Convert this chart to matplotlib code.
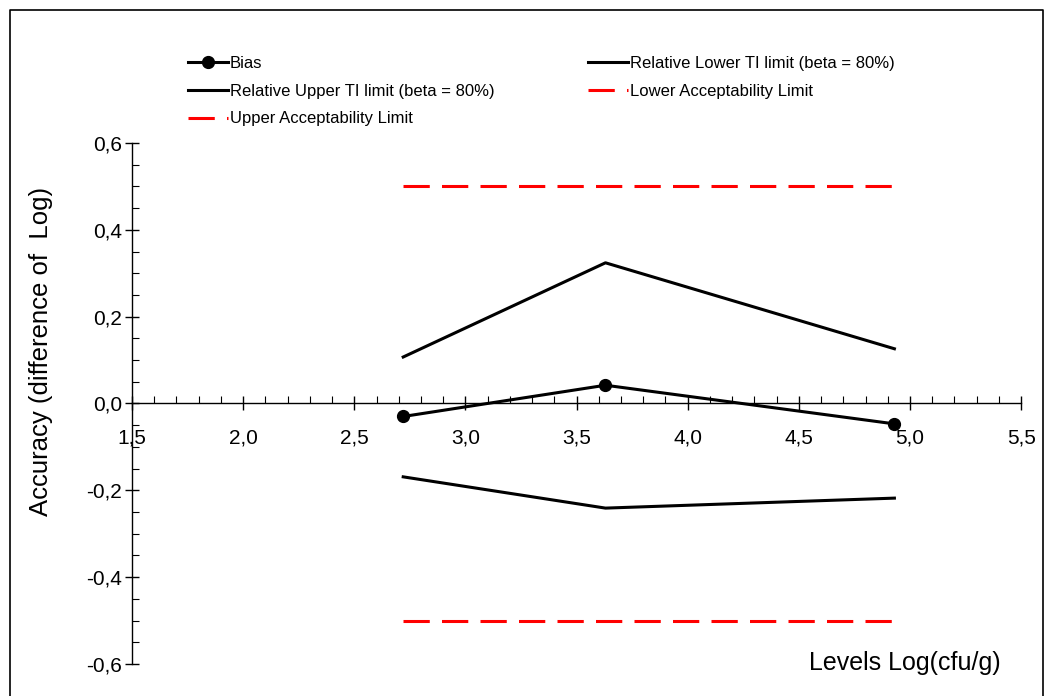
import matplotlib
matplotlib.use('Agg')
import matplotlib.pyplot as plt
from matplotlib.ticker import MultipleLocator, FuncFormatter
from matplotlib.lines import Line2D

plt.rcParams['font.family'] = ['Liberation Sans', 'DejaVu Sans']

# data
levels = [2.72, 3.63, 4.93]
bias = [-0.030, 0.042, -0.047]
upper_ti = [0.107, 0.324, 0.126]
lower_ti = [-0.169, -0.241, -0.218]
lower_acc = [-0.5, -0.5, -0.5]
upper_acc = [0.5, 0.5, 0.5]

RED = '#FF0000'
LW = 2.2
DASH = (8.6, 4.0)

fig = plt.figure(figsize=(10.53, 6.96), dpi=100)
ax = fig.add_axes([0.1254, 0.046, 0.8443, 0.7486])

ax.plot(levels, bias, color='black', lw=LW, marker='o', ms=8.5, label='Bias')
ax.plot(levels, upper_ti, color='black', lw=LW, label='Relative Upper TI limit (beta = 80%)')
ax.plot(levels, lower_ti, color='black', lw=LW, label='Relative Lower TI limit (beta = 80%)')
ax.plot(levels, lower_acc, color=RED, lw=LW, dashes=DASH, label='Lower Acceptability Limit')
ax.plot(levels, upper_acc, color=RED, lw=LW, dashes=DASH, label='Upper Acceptability Limit')

ax.set_xlim(1.5, 5.5)
ax.set_ylim(-0.6, 0.6)
for s in ('top', 'right'):
    ax.spines[s].set_visible(False)
ax.spines['bottom'].set_position(('data', 0))
ax.spines['left'].set_linewidth(1.0)
ax.spines['bottom'].set_linewidth(1.0)

ax.xaxis.set_major_locator(MultipleLocator(0.5))
ax.xaxis.set_minor_locator(MultipleLocator(0.1))
ax.yaxis.set_major_locator(MultipleLocator(0.2))
ax.yaxis.set_minor_locator(MultipleLocator(0.05))
comma = FuncFormatter(lambda v, p: f'{v:.1f}'.replace('.', ',').replace('-0,0', '0,0'))
ax.xaxis.set_major_formatter(comma)
ax.yaxis.set_major_formatter(comma)
ax.tick_params(which='major', direction='inout', length=10, width=1.0, labelsize=15)
ax.tick_params(which='minor', direction='in', length=5, width=0.8)
ax.tick_params(axis='x', which='major', pad=13)
ax.tick_params(axis='y', which='major', pad=2)

ax.set_ylabel('Accuracy (difference of  Log)', fontsize=18.5)
ax.yaxis.set_label_coords(-0.089, 0.599)
ax.text(0.9775, -0.022, 'Levels Log(cfu/g)', transform=ax.transAxes, ha='right', va='bottom',
        fontsize=18)

h = {l.get_label(): l for l in ax.get_lines()}
order = ['Bias', 'Relative Upper TI limit (beta = 80%)', 'Upper Acceptability Limit',
         'Relative Lower TI limit (beta = 80%)', 'Lower Acceptability Limit']
ax.legend([h[k] for k in order], order, ncol=2, frameon=False, loc='upper left',
          bbox_to_anchor=(0.172, 0.929), bbox_transform=fig.transFigure,
          prop={'size': 12}, handlelength=2.4, handletextpad=0.12,
          columnspacing=5.6, labelspacing=0.76, numpoints=1, borderaxespad=0)

# outer frame round the chart
fig.add_artist(Line2D([0.0095, 0.0095, 0.9905, 0.9905], [0.0, 0.986, 0.986, 0.0],
                      transform=fig.transFigure, color='black', lw=1.2))

fig.savefig('out.png', dpi=100, facecolor='white')
